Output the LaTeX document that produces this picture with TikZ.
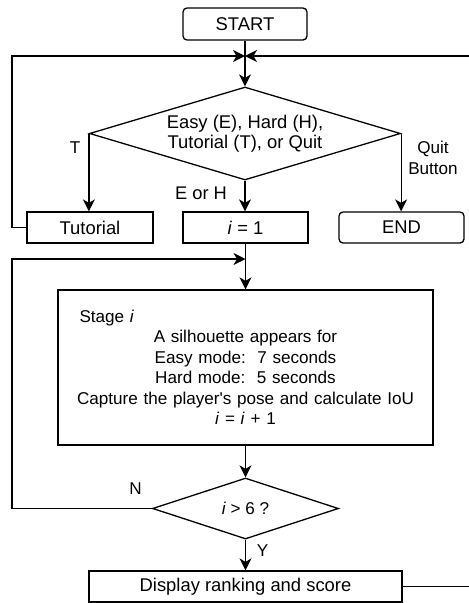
\documentclass[tikz,border=0pt]{standalone}
\usepackage{fontspec}
\setmainfont{Liberation Sans}
\usetikzlibrary{shapes.geometric,arrows.meta}
\begin{document}
\begin{tikzpicture}[x=1pt,y=-1pt,
  every node/.style={font=\fontsize{18.4}{20.5}\selectfont},
  small/.style={font=\fontsize{17.1}{20.5}\selectfont},
  box/.style={draw, line width=1.3pt, inner sep=0pt, minimum height=31pt},
  rbox/.style={box, rounded corners=4pt},
  dia/.style={draw, diamond, line width=1.3pt, inner sep=0pt},
  lab/.style={fill=white, inner sep=1pt, align=center, small},
  conn/.style={line width=1.3pt},
  arr/.style={conn, -{Stealth[length=12pt,width=12pt,inset=3.5pt]}}]
\useasboundingbox (0,0) rectangle (469,603);
\clip (0,0) rectangle (469,603);

% nodes
\node[rbox, minimum width=124pt, minimum height=32pt] (start) at (245,24) {START};
\node[dia, minimum width=311pt, minimum height=93pt,
  label={[align=center]center:{Easy (E), Hard (H),\\Tutorial (T), or Quit}}] (d1) at (245,133.5) {};
\node[box, minimum width=126pt] (tut) at (90,227.5) {Tutorial};
\node[box, minimum width=125pt] (i1) at (245.5,227.5) {\textit{i} = 1};
\node[rbox, minimum width=125pt] (end) at (401.5,227.5) {END};
\node[box, small, minimum width=375pt, minimum height=155pt, text width=356pt, align=center] (stage) at (245.5,367.5)
  {\hspace*{12pt}Stage \textit{i}\hfill\null\\
   A silhouette appears for\\
   Easy mode:\ \ 7 seconds\\
   Hard mode:\ \ 5 seconds\\
   Capture the player\textquotesingle s pose and calculate IoU\\
   \textit{i} = \textit{i} + 1};
\node[dia, minimum width=186pt, minimum height=61pt,
  label={[small]center:{\textit{i} > 6 ?}}] (d2) at (245.5,508.5) {};
\node[box, minimum width=313pt] (disp) at (245.5,586.5) {Display ranking and score};

% junction coordinates
\coordinate (m) at (245,56);
\coordinate (lx) at (12,56);
\coordinate (rx) at (472,56);
\coordinate (m2) at (245.5,259);
\coordinate (lx2) at (12,259);

% connectors
\draw[arr] (start.south) -- (start.south |- d1.north);
\draw[arr] (tut.west) -| (lx) -- (m);
\draw[arr] (disp.east) -| (rx) -- (m);
\draw[arr] (d1.west) -- (d1.west |- tut.north);
\draw[arr] (d1.south) -- (d1.south |- i1.north);
\draw[arr] (d1.east) -- (d1.east |- end.north);
\draw[arr] (i1.south) -- (stage.north);
\draw[arr] (d2.west) -| (lx2) -- (m2);
\draw[arr] (stage.south) -- (d2.north);
\draw[arr] (d2.south) -- (disp.north);

% edge labels
\node[lab] (lt) at (75,148) {T};
\node[lab, font=\fontsize{18.3}{20.5}\selectfont] (leh) at (201,193) {E or H};
\node[lab] (lq) at (433,158) {Quit\\[1pt]Button};
\node[lab] (ln) at (135.5,489) {N};
\node[lab] (ly) at (262.5,551) {Y};
\end{tikzpicture}
\end{document}
